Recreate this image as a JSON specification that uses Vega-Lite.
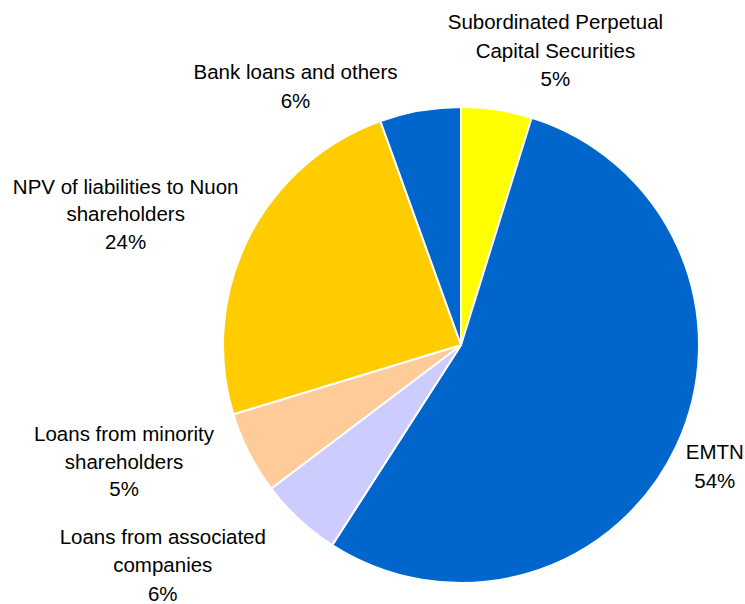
{
  "$schema": "https://vega.github.io/schema/vega-lite/v6.json",
  "autosize": {"type": "none"},
  "width": 568,
  "height": 518,
  "padding": {"left": 177, "top": 86, "right": 0, "bottom": 0},
  "background": "white",
  "view": {"stroke": null},
  "data": {
    "values": [
      {"idx": 1, "name": "Subordinated Perpetual Capital Securities", "value": 4.8, "label": "Subordinated Perpetual\nCapital Securities\n5%"},
      {"idx": 2, "name": "EMTN", "value": 54.3, "label": "EMTN\n54%"},
      {"idx": 3, "name": "Loans from associated companies", "value": 5.6, "label": "Loans from associated\ncompanies\n6%"},
      {"idx": 4, "name": "Loans from minority shareholders", "value": 5.6, "label": "Loans from minority\nshareholders\n5%"},
      {"idx": 5, "name": "NPV of liabilities to Nuon shareholders", "value": 24.2, "label": "NPV of liabilities to Nuon\nshareholders\n24%"},
      {"idx": 6, "name": "Bank loans and others", "value": 5.5, "label": "Bank loans and others\n6%"}
    ]
  },
  "encoding": {
    "theta": {"field": "value", "type": "quantitative", "stack": true},
    "order": {"field": "idx", "type": "quantitative"}
  },
  "layer": [
    {
      "mark": {"type": "arc", "outerRadius": 238, "stroke": "white", "strokeWidth": 2},
      "encoding": {
        "color": {
          "field": "name",
          "type": "nominal",
          "legend": null,
          "scale": {
            "domain": ["Subordinated Perpetual Capital Securities", "EMTN", "Loans from associated companies", "Loans from minority shareholders", "NPV of liabilities to Nuon shareholders", "Bank loans and others"],
            "range": ["#FFFF00", "#0066CC", "#CCCCFF", "#FFCC99", "#FFCC00", "#0066CC"]
          }
        }
      }
    },
    {
      "mark": {"type": "text", "radius": 308.7, "thetaOffset": 0.16, "dy": -28, "align": "center", "baseline": "middle", "lineBreak": "\n", "lineHeight": 28.5, "font": "Liberation Sans", "fontSize": 20.5, "color": "black"},
      "encoding": {"text": {"condition": {"test": "datum.idx === 1", "field": "label"}, "value": ""}}
    },
    {
      "mark": {"type": "text", "radius": 281.8, "thetaOffset": 0.013, "dy": -14, "align": "center", "baseline": "middle", "lineBreak": "\n", "lineHeight": 29, "font": "Liberation Sans", "fontSize": 20.5, "color": "black"},
      "encoding": {"text": {"condition": {"test": "datum.idx === 2", "field": "label"}, "value": ""}}
    },
    {
      "mark": {"type": "text", "radius": 371, "thetaOffset": 0.186, "dy": -28, "align": "center", "baseline": "middle", "lineBreak": "\n", "lineHeight": 28.5, "font": "Liberation Sans", "fontSize": 20.5, "color": "black"},
      "encoding": {"text": {"condition": {"test": "datum.idx === 3", "field": "label"}, "value": ""}}
    },
    {
      "mark": {"type": "text", "radius": 356.7, "thetaOffset": 0.137, "dy": -27, "align": "center", "baseline": "middle", "lineBreak": "\n", "lineHeight": 27.5, "font": "Liberation Sans", "fontSize": 20.5, "color": "black"},
      "encoding": {"text": {"condition": {"test": "datum.idx === 4", "field": "label"}, "value": ""}}
    },
    {
      "mark": {"type": "text", "radius": 359.7, "thetaOffset": -0.095, "dy": -27, "align": "center", "baseline": "middle", "lineBreak": "\n", "lineHeight": 27.5, "font": "Liberation Sans", "fontSize": 20.5, "color": "black"},
      "encoding": {"text": {"condition": {"test": "datum.idx === 5", "field": "label"}, "value": ""}}
    },
    {
      "mark": {"type": "text", "radius": 306.3, "thetaOffset": -0.398, "dy": -14, "align": "center", "baseline": "middle", "lineBreak": "\n", "lineHeight": 29, "font": "Liberation Sans", "fontSize": 20.5, "color": "black"},
      "encoding": {"text": {"condition": {"test": "datum.idx === 6", "field": "label"}, "value": ""}}
    }
  ]
}
